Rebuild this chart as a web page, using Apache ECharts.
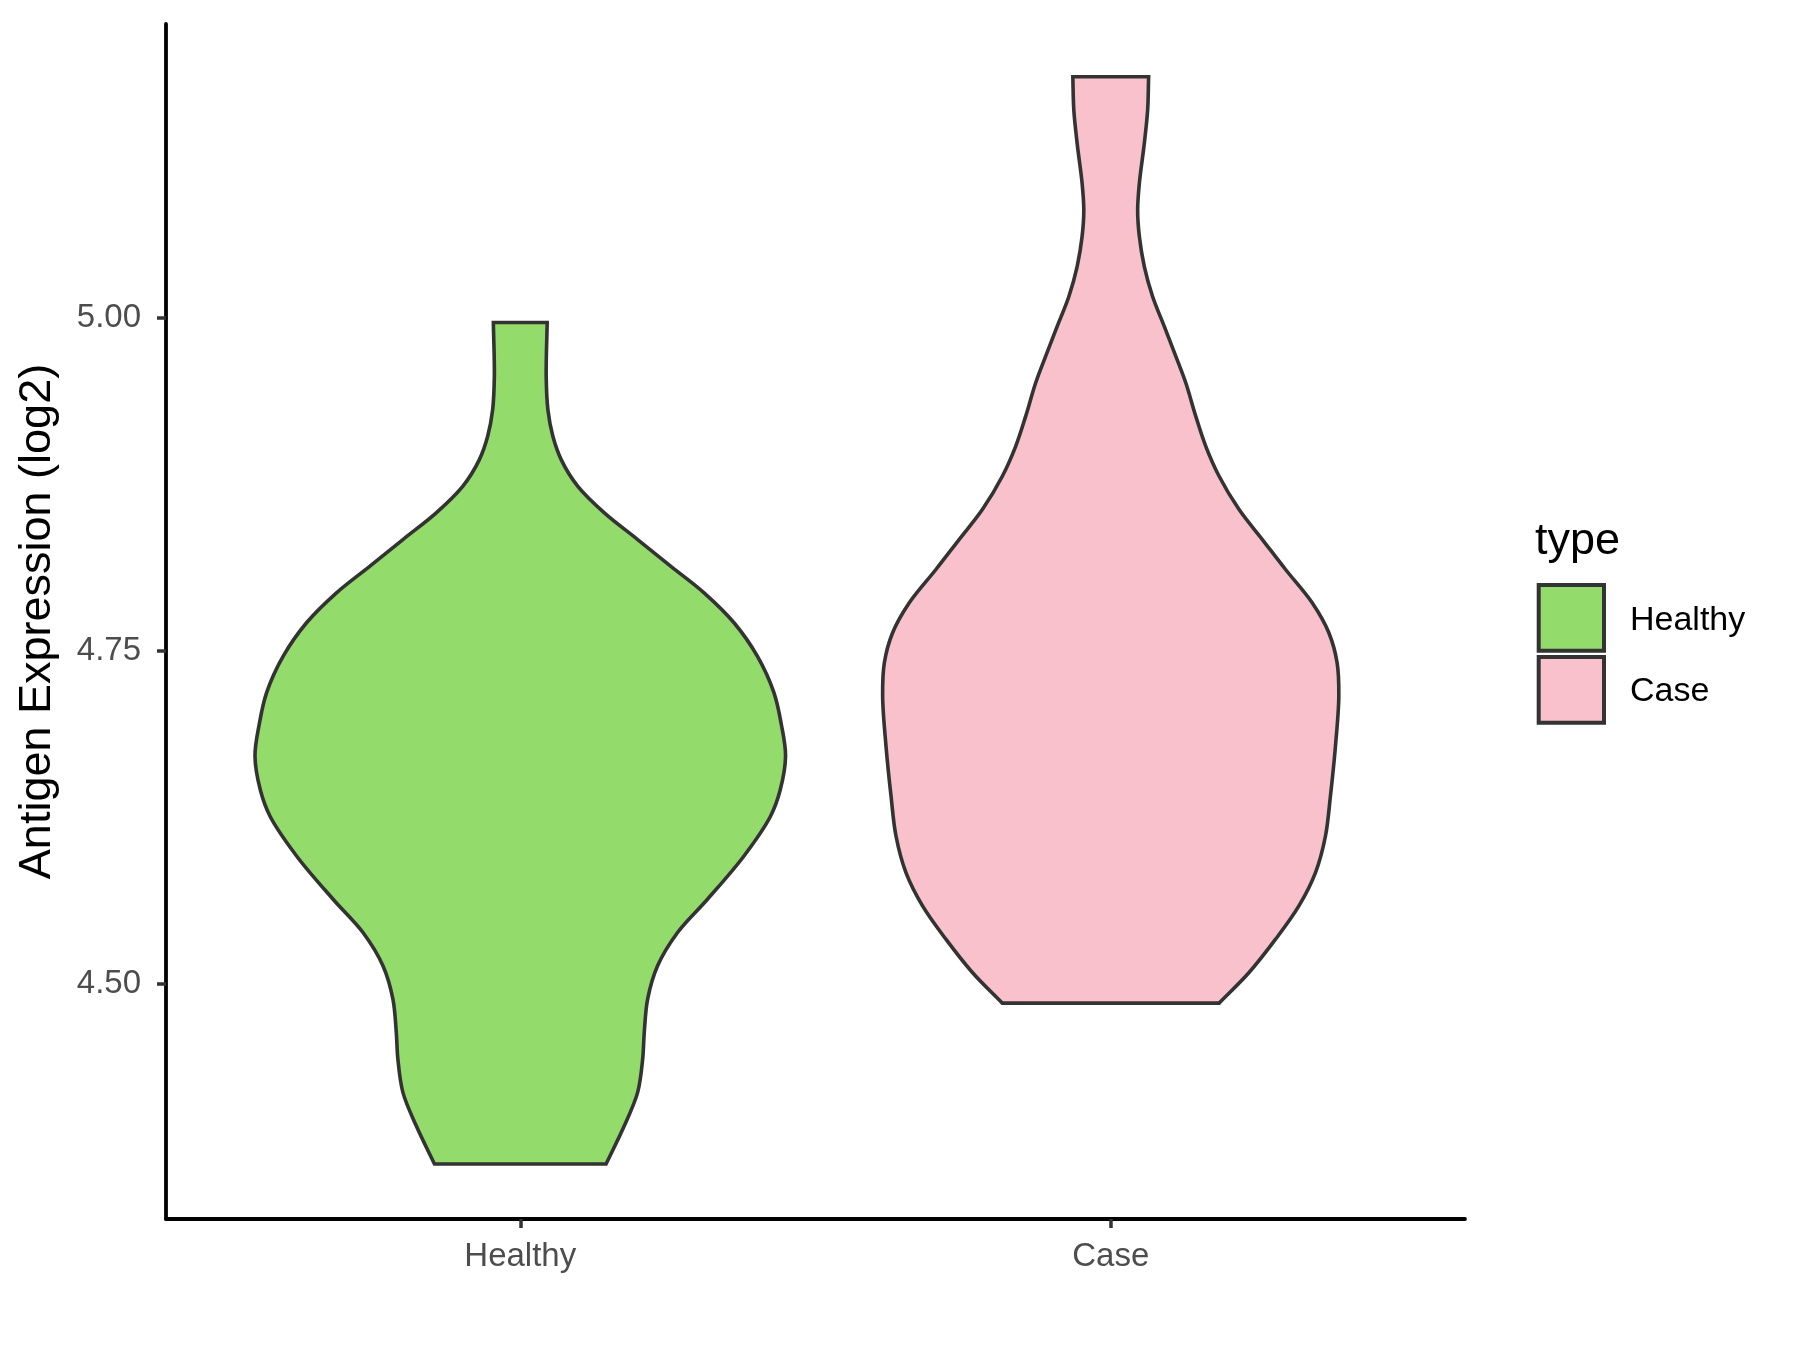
<!DOCTYPE html>
<html>
<head>
<meta charset="utf-8">
<style>
  html, body { margin: 0; padding: 0; background: #ffffff; }
  #chart { width: 1800px; height: 1350px; }
</style>
<script src="https://cdn.jsdelivr.net/npm/echarts@6/dist/echarts.min.js"></script>
</head>
<body>
<div id="chart"></div>
<script>
// ---------------- data ----------------
const categories = ['Healthy', 'Case'];
const yTicks = [4.50, 4.75, 5.00];
const yRange = [4.3233, 5.2206];

// violin outlines: expression values (top to bottom) and half-widths (category units)
const healthyValues = [4.9965, 4.9560, 4.9310, 4.9110, 4.8935, 4.8734, 4.8535, 4.8335, 4.8134, 4.7935,
  4.7710, 4.7459, 4.7185, 4.6950, 4.6709, 4.6450, 4.6259, 4.5959, 4.5634, 4.5384,
  4.5134, 4.4884, 4.4634, 4.4434, 4.4184, 4.3933, 4.3646];
const healthyHalfWidths = [0.0456, 0.0439, 0.0468, 0.0552, 0.0693, 0.0975, 0.1424, 0.1988, 0.2551, 0.3113,
  0.3620, 0.4015, 0.4296, 0.4420, 0.4493, 0.4400, 0.4240, 0.3789, 0.3171, 0.2664,
  0.2326, 0.2157, 0.2100, 0.2073, 0.1988, 0.1762, 0.1453];

const caseValues = [5.1810, 5.1560, 5.1311, 5.1011, 5.0810, 5.0610, 5.0385, 5.0160, 4.9935, 4.9710,
  4.9510, 4.9260, 4.9035, 4.8810, 4.8560, 4.8335, 4.8110, 4.7860, 4.7635, 4.7410,
  4.7159, 4.6784, 4.6409, 4.6109, 4.5834, 4.5584, 4.5334, 4.5084, 4.4854];
const caseHalfWidths = [0.0642, 0.0625, 0.0569, 0.0485, 0.0456, 0.0485, 0.0569, 0.0709, 0.0907, 0.1103,
  0.1272, 0.1441, 0.1610, 0.1836, 0.2174, 0.2568, 0.2961, 0.3412, 0.3694, 0.3834,
  0.3863, 0.3806, 0.3721, 0.3637, 0.3468, 0.3187, 0.2792, 0.2343, 0.1836];

const colors = { Healthy: '#93DB6A', Case: '#F8C1CB' };
// --------------------------------------

const profiles = [
  { name: 'Healthy', pos: 1, values: healthyValues, hw: healthyHalfWidths },
  { name: 'Case', pos: 2, values: caseValues, hw: caseHalfWidths }
];

// centripetal Catmull-Rom -> cubic bezier segments (drawing only)
function smoothSegs(pts) {
  const n = pts.length;
  const P = i => {
    if (i < 0) return [2 * pts[0][0] - pts[1][0], 2 * pts[0][1] - pts[1][1]];
    if (i >= n) return [2 * pts[n - 1][0] - pts[n - 2][0], 2 * pts[n - 1][1] - pts[n - 2][1]];
    return pts[i];
  };
  const dist = (a, b) => Math.pow(Math.hypot(b[0] - a[0], b[1] - a[1]), 0.5) || 1e-6;
  let d = '';
  for (let i = 0; i < n - 1; i++) {
    const p0 = P(i - 1), p1 = P(i), p2 = P(i + 1), p3 = P(i + 2);
    const d1 = dist(p0, p1), d2 = dist(p1, p2), d3 = dist(p2, p3);
    const c1 = [0, 1].map(k => (d1 * d1 * p2[k] - d2 * d2 * p0[k] + (2 * d1 * d1 + 3 * d1 * d2 + d2 * d2) * p1[k]) / (3 * d1 * (d1 + d2)));
    const c2 = [0, 1].map(k => (d3 * d3 * p1[k] - d2 * d2 * p3[k] + (2 * d3 * d3 + 3 * d3 * d2 + d2 * d2) * p2[k]) / (3 * d3 * (d3 + d2)));
    d += ' C' + c1[0] + ',' + c1[1] + ' ' + c2[0] + ',' + c2[1] + ' ' + p2[0] + ',' + p2[1];
  }
  return d;
}

function makeRender(prof) {
  return function (params, api) {
    const cx = api.value(0);
    const left = prof.values.map((v, i) => api.coord([cx - prof.hw[i], v]));
    const right = prof.values.map((v, i) => api.coord([cx + prof.hw[i], v])).reverse();
    let d = 'M' + left[0][0] + ',' + left[0][1] + smoothSegs(left);
    d += ' L' + right[0][0] + ',' + right[0][1] + smoothSegs(right) + ' Z';
    return {
      type: 'path',
      shape: { pathData: d },
      style: { fill: colors[prof.name], stroke: '#333333', lineWidth: 3.6, lineJoin: 'miter' }
    };
  };
}

const chart = echarts.init(document.getElementById('chart'), null, { renderer: 'canvas' });
const FONT = 'Liberation Sans, Arial, Helvetica, sans-serif';

const option = {
  animation: false,
  backgroundColor: '#ffffff',
  grid: { left: 166, right: 335, top: 24, bottom: 131, containLabel: false },
  xAxis: {
    type: 'value',
    min: 0.4,
    max: 2.6,
    splitLine: { show: false },
    axisLine: { show: true, onZero: false, lineStyle: { color: '#000000', width: 3.8 } },
    axisTick: { show: true, length: 9, customValues: [1, 2], lineStyle: { color: '#333333', width: 3.5 } },
    axisLabel: {
      customValues: [1, 2],
      formatter: v => categories[Math.round(v) - 1] || '',
      color: '#4D4D4D', fontSize: 33, fontFamily: FONT, margin: 21
    }
  },
  yAxis: {
    type: 'value',
    min: yRange[0],
    max: yRange[1],
    name: 'Antigen Expression (log2)',
    nameLocation: 'middle',
    nameRotate: 90,
    nameGap: 106,
    nameTextStyle: { color: '#000000', fontSize: 45, fontFamily: FONT },
    splitLine: { show: false },
    axisLine: { show: true, onZero: false, lineStyle: { color: '#000000', width: 3.8 } },
    axisTick: { show: true, length: 9, customValues: yTicks, lineStyle: { color: '#333333', width: 3.5 } },
    axisLabel: {
      customValues: yTicks,
      formatter: v => v.toFixed(2),
      color: '#4D4D4D', fontSize: 33, fontFamily: FONT, margin: 25
    }
  },
  series: profiles.map(p => ({
    type: 'custom',
    name: p.name,
    renderItem: makeRender(p),
    data: [[p.pos, p.values[0]]],
    clip: false,
    silent: true
  })),
  graphic: [
    { type: 'text', left: 1535, top: 519, style: { text: 'type', fontSize: 45, fontFamily: FONT, fill: '#000000' } },
    { type: 'rect', shape: { x: 1538.7, y: 585, width: 65.3, height: 65.7 },
      style: { fill: colors.Healthy, stroke: '#333333', lineWidth: 4 } },
    { type: 'rect', shape: { x: 1538.7, y: 657, width: 65.3, height: 65.7 },
      style: { fill: colors.Case, stroke: '#333333', lineWidth: 4 } },
    { type: 'text', x: 1630, y: 621, style: { text: 'Healthy', fontSize: 34, fontFamily: FONT, fill: '#000000', textVerticalAlign: 'middle' } },
    { type: 'text', x: 1630, y: 692, style: { text: 'Case', fontSize: 34, fontFamily: FONT, fill: '#000000', textVerticalAlign: 'middle' } }
  ]
};
chart.setOption(option);
</script>
</body>
</html>
